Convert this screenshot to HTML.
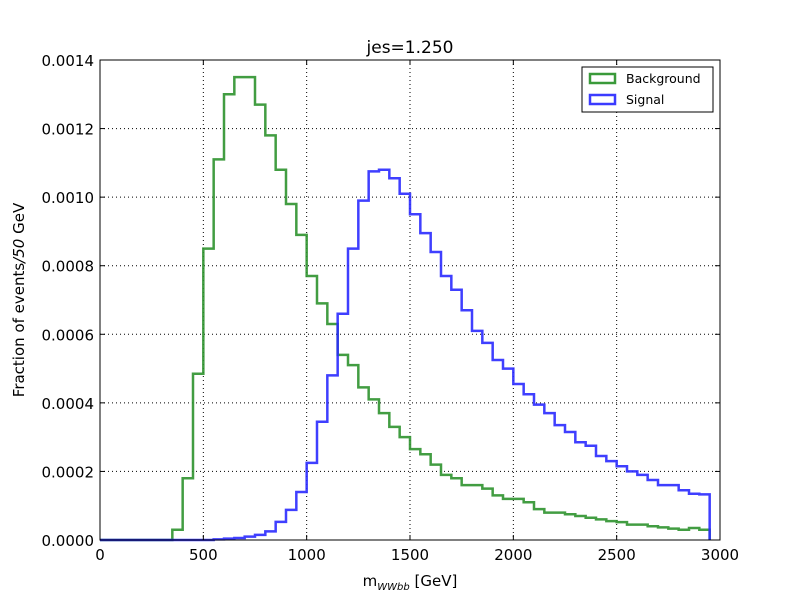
<!DOCTYPE html>
<html><head><meta charset="utf-8"><style>
body{margin:0;background:#fff;}
svg text{font-family:"DejaVu Sans","Liberation Sans",sans-serif;fill:#000;}
</style></head><body>
<svg id="chart" width="800" height="600" xmlns="http://www.w3.org/2000/svg">
<rect x="0" y="0" width="800" height="600" fill="#fff"/>
<g id="grid"></g>
<g id="series"></g>
<rect x="100" y="60" width="620" height="480" fill="none" stroke="#000" stroke-width="1"/>
<g id="ticks"></g>
<text x="410" y="53" font-size="17" text-anchor="middle">jes=1.250</text>
<text x="410" y="586" font-size="15" text-anchor="middle">m<tspan font-size="10" dy="4" font-style="italic">WWbb</tspan><tspan dy="-4"> [GeV]</tspan></text>
<text transform="translate(24,300) rotate(-90)" font-size="15" text-anchor="middle">Fraction of events<tspan font-style="italic">/50</tspan> GeV</text>
<g>
<rect x="582" y="67" width="131" height="45" fill="#fff" stroke="#000" stroke-width="1"/>
<g>
<rect x="590" y="74" width="25" height="9" fill="none" stroke="#3a9a3a" stroke-width="2.5"/>
<text x="626" y="83" font-size="12.5">Background</text></g>
<g>
<rect x="590" y="95" width="25" height="9" fill="none" stroke="#3b3bff" stroke-width="2.5"/>
<text x="626" y="104" font-size="12.5">Signal</text></g>
</g>
</svg>
<script>
const binEdgeStart = 0;
const binWidth = 50;
const background = [0,0,0,0,0,0,0,0.00003,0.00018,0.000485,0.00085,0.00111,0.0013,0.00135,0.00135,0.00127,0.00118,0.00108,0.00098,0.00089,0.00077,0.00069,0.00063,0.00054,0.00051,0.000445,0.00041,0.00037,0.00033,0.0003,0.000265,0.00025,0.00022,0.00019,0.00018,0.00016,0.00016,0.00015,0.00013,0.00012,0.00012,0.00011,0.00009,0.00008,0.00008,0.000075,0.00007,0.000065,0.00006,0.000055,0.000052,0.000045,0.000045,0.00004,0.000037,0.000033,0.00003,0.000035,0.00003];
const signal = [0,0,0,0,0,0,0,0,0,0,0,0.000002,0.000004,0.000006,0.00001,0.000015,0.000025,0.000053,0.000088,0.00014,0.000225,0.000345,0.00048,0.00066,0.00085,0.00099,0.001075,0.00108,0.001055,0.00101,0.00095,0.000895,0.00084,0.00077,0.00073,0.00067,0.00061,0.000575,0.000525,0.0005,0.000455,0.000425,0.000395,0.00037,0.000335,0.000315,0.000285,0.000275,0.000245,0.00023,0.000215,0.0002,0.00019,0.000175,0.00016,0.00016,0.000145,0.000135,0.000133];
const xTicks = [0,500,1000,1500,2000,2500,3000];
const yTicks = [0,0.0002,0.0004,0.0006,0.0008,0.001,0.0012,0.0014];
const yTickLabels = ["0.0000","0.0002","0.0004","0.0006","0.0008","0.0010","0.0012","0.0014"];

const NS="http://www.w3.org/2000/svg";
const X0=100,X1=720,Y0=540,Y1=60;
const sx=v=>X0+(v-0)/(3000-0)*(X1-X0);
const sy=v=>Y0-(v-0)/(0.0014-0)*(Y0-Y1);
const grid=document.getElementById('grid'), ticks=document.getElementById('ticks'), series=document.getElementById('series');
function mk(tag,attrs,parent){const e=document.createElementNS(NS,tag);for(const k in attrs)e.setAttribute(k,attrs[k]);parent.appendChild(e);return e;}
xTicks.forEach((t,i)=>{
  const x=sx(t);
  if(i>0&&i<xTicks.length-1){const g=mk('line',{x1:x,x2:x,y1:Y1,y2:Y0,stroke:'#000','stroke-dasharray':'1,3','stroke-width':1},grid);
  
  }
  mk('line',{x1:x,x2:x,y1:Y0,y2:Y0-5,stroke:'#000'},ticks);
  mk('line',{x1:x,x2:x,y1:Y1,y2:Y1+5,stroke:'#000'},ticks);
  const l=mk('text',{x:x,y:Y0+20,'font-size':15,'text-anchor':'middle'},ticks);l.textContent=t;
  
  
});
yTicks.forEach((t,i)=>{
  const y=sy(t);
  if(i>0&&i<yTicks.length-1){const g=mk('line',{x1:X0,x2:X1,y1:y,y2:y,stroke:'#000','stroke-dasharray':'1,3','stroke-width':1},grid);
  
  }
  mk('line',{x1:X0,x2:X0+5,y1:y,y2:y,stroke:'#000'},ticks);
  mk('line',{x1:X1,x2:X1-5,y1:y,y2:y,stroke:'#000'},ticks);
  const l=mk('text',{x:X0-6,y:y+6,'font-size':15,'text-anchor':'end'},ticks);l.textContent=yTickLabels[i];
  
  
});
function stepPath(vals){
  let d='M'+sx(binEdgeStart)+','+sy(0);
  vals.forEach((v,i)=>{const a=binEdgeStart+i*binWidth;d+=' L'+sx(a)+','+sy(v)+' L'+sx(a+binWidth)+','+sy(v);});
  d+=' L'+sx(binEdgeStart+vals.length*binWidth)+','+sy(0);
  return d;
}
const pb=mk('path',{d:stepPath(background),fill:'none',stroke:'#2e922e','stroke-opacity':0.9,'stroke-width':2.5},series);


const ps=mk('path',{d:stepPath(signal),fill:'none',stroke:'#2a2aff','stroke-opacity':0.9,'stroke-width':2.5},series);


</script>
</body></html>
